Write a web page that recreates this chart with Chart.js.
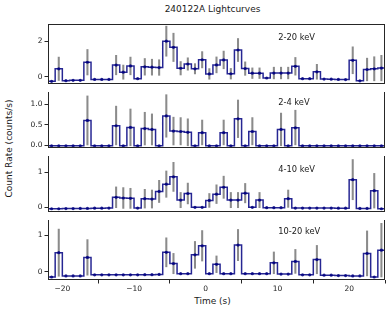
<!DOCTYPE html>
<html>
<head>
<meta charset="utf-8">
<script src="https://cdn.jsdelivr.net/npm/chart.js@4.4.1/dist/chart.umd.min.js"></script>
<style>
  body { margin: 0; background: #fff; }
  #fig { position: relative; width: 391px; height: 312px; background: #fff; overflow: hidden;
         font-family: 'DejaVu Sans', sans-serif; color: #1a1a1a; }
  #fig canvas { position: absolute; left: 0; }
  .txt { position: absolute; white-space: nowrap; text-align: center; font-size: 9px; line-height: 11px; }
</style>
</head>
<body>
<div id="fig">
  <div class="txt" style="left:0;width:425px;top:3.8px;">240122A Lightcurves</div>
  <div class="txt" style="left:-90.7px;width:200px;top:142.5px;transform:rotate(-90deg);">Count Rate (counts/s)</div>
  <div class="txt" style="left:0;width:425px;top:295.5px;">Time (s)</div>
  <canvas id="p0" width="391" height="88" style="top:0px"></canvas>
  <canvas id="p1" width="391" height="64" style="top:88px"></canvas>
  <canvas id="p2" width="391" height="64" style="top:152px"></canvas>
  <canvas id="p3" width="391" height="96" style="top:216px"></canvas>
</div>
<script>
// bin centres (1 s bins, edges -22 .. 25)
const times = [-21.5, -20.5, -19.5, -18.5, -17.5, -16.5, -15.5, -14.5, -13.5, -12.5, -11.5, -10.5,
  -9.5, -8.5, -7.5, -6.5, -5.5, -4.5, -3.5, -2.5, -1.5, -0.5, 0.5, 1.5, 2.5, 3.5, 4.5, 5.5, 6.5,
  7.5, 8.5, 9.5, 10.5, 11.5, 12.5, 13.5, 14.5, 15.5, 16.5, 17.5, 18.5, 19.5, 20.5, 21.5, 22.5,
  23.5, 24.5];
const timeEdges = [-22, 25];
const xTicks = [-20, -10, 0, 10, 20];

const bands = ['2-20 keV', '2-4 keV', '4-10 keV', '10-20 keV'];

const rate2_20 = [-0.27, 0.44, -0.23, -0.21, -0.21, 0.81, -0.16, -0.16, -0.16, 0.65, 0.25, 0.60,
  -0.12, 0.55, 0.53, 0.51, 2.00, 1.65, 0.47, 0.71, 0.44, 0.95, 0.15, 0.66, 0.94, 0.16, 1.50, 0.45,
  0.19, 0.19, -0.08, 0.20, 0.20, 0.20, 0.58, -0.12, -0.12, 0.27, -0.14, -0.15, -0.16, -0.17, 0.92,
  -0.24, 0.40, 0.44, 0.48];
const err2_20 = [0, 0.66, 0, 0, 0, 0.72, 0, 0, 0, 0.55, 0.40, 0.50, 0, 0.47, 0.45, 0.44, 0.85, 0.80,
  0.38, 0.35, 0.29, 0.46, 0.30, 0.45, 0.50, 0.30, 0.65, 0.38, 0.30, 0.30, 0, 0.33, 0.33, 0.33, 0.50,
  0, 0, 0.42, 0, 0, 0, 0, 0.76, 0, 0.64, 0.68, 0.72];

const rate2_4 = [-0.01, -0.01, -0.01, -0.01, -0.01, 0.61, -0.01, -0.01, -0.01, 0.48, -0.01, 0.44,
  -0.01, 0.41, 0.39, -0.01, 0.72, 0.35, 0.34, 0.32, -0.01, 0.31, -0.01, -0.01, 0.31, -0.01, 0.65,
  -0.01, 0.34, -0.01, -0.01, -0.01, 0.39, -0.01, 0.43, -0.01, -0.01, -0.01, -0.01, -0.01, -0.01,
  -0.01, -0.01, -0.01, -0.01, -0.01, -0.01];
const err2_4 = [0, 0, 0, 0, 0, 0.60, 0, 0, 0, 0.48, 0, 0.45, 0, 0.40, 0.38, 0, 0.52, 0.34, 0.34, 0.33,
  0, 0.31, 0, 0, 0.31, 0, 0.46, 0, 0.34, 0, 0, 0, 0.40, 0, 0.43, 0, 0, 0, 0, 0, 0, 0, 0, 0, 0, 0, 0];

const rate4_10 = [-0.05, -0.05, -0.045, -0.045, -0.04, -0.04, -0.035, -0.035, -0.03, 0.28, 0.26,
  0.25, -0.03, 0.24, 0.23, 0.45, 0.66, 0.87, 0.20, 0.39, -0.01, -0.01, 0.19, 0.37, 0.57, 0.20, 0.20,
  0.40, -0.01, 0.20, -0.02, -0.02, -0.02, 0.24, -0.03, -0.03, -0.03, -0.03, -0.03, -0.03, -0.035,
  -0.035, 0.79, -0.04, -0.04, 0.47, -0.05];
const err4_10 = [0, 0, 0, 0, 0, 0, 0, 0, 0, 0.30, 0.30, 0.29, 0, 0.27, 0.26, 0.32, 0.38, 0.42, 0.22,
  0.30, 0, 0, 0.20, 0.27, 0.32, 0.22, 0.22, 0.28, 0, 0.22, 0, 0, 0, 0.25, 0, 0, 0, 0, 0, 0, 0, 0,
  0.58, 0, 0, 0.50, 0];

const rate10_20 = [-0.15, 0.52, -0.12, -0.12, -0.12, 0.39, -0.09, -0.09, -0.09, -0.09, -0.09, -0.09,
  -0.09, -0.085, -0.085, -0.08, 0.53, 0.22, -0.06, -0.06, 0.46, 0.71, -0.06, 0.20, -0.06, -0.06,
  0.73, -0.06, -0.06, -0.06, -0.06, 0.24, -0.07, -0.07, 0.28, -0.09, -0.09, 0.33, -0.10, -0.10,
  -0.11, -0.11, -0.12, -0.12, 0.50, -0.15, 0.59];
const err10_20 = [0, 0.65, 0, 0, 0, 0.49, 0, 0, 0, 0, 0, 0, 0, 0, 0, 0, 0.40, 0.28, 0, 0, 0.37, 0.42,
  0, 0.23, 0, 0, 0.43, 0, 0, 0, 0, 0.30, 0, 0, 0.33, 0, 0, 0.39, 0, 0, 0, 0, 0, 0, 0.62, 0, 0.74];

const yTicks2_20 = [0, 2];
const yTicks2_4 = [0.0, 0.5, 1.0];
const yTicks4_10 = [0, 1];
const yTicks10_20 = [0, 1];

Chart.defaults.font.family = "'DejaVu Sans', sans-serif";
Chart.defaults.color = '#1a1a1a';

const LINE = 'rgba(0, 0, 128, 0.85)';
const ERR = 'rgba(110, 110, 110, 0.8)';
const AXIS = '#262626';

// box around each panel + the band label
const panelFrame = {
  id: 'panelFrame',
  afterDraw(chart, args, opts) {
    const { ctx, chartArea: a } = chart;
    const l = Math.round(a.left), r = Math.round(a.right);
    const t = Math.round(a.top), b = Math.round(a.bottom);
    ctx.save();
    ctx.fillStyle = AXIS;
    if (opts.drawTop) ctx.fillRect(l, t, r - l, 1);
    ctx.fillRect(l, t, 1, b - t);
    ctx.fillRect(r - 1, t, 1, b - t);
    ctx.fillRect(l, b - 1, r - l, 1);

    ctx.fillStyle = '#1a1a1a';
    ctx.font = "8.3px 'DejaVu Sans'";
    ctx.textBaseline = 'middle';
    ctx.textAlign = 'left';
    ctx.fillText(opts.text, a.left + 0.683 * (a.right - a.left), a.top + opts.dy);
    ctx.restore();
  }
};

const panels = [
  { id: 'p0', rate: rate2_20, err: err2_20, ticks: yTicks2_20, min: -0.42, max: 2.97, digits: 0, padTop: 24, dy: 13.5 },
  { id: 'p1', rate: rate2_4, err: err2_4, ticks: yTicks2_4, min: -0.064, max: 1.306, digits: 1, padTop: 0, dy: 10.7 },
  { id: 'p2', rate: rate4_10, err: err4_10, ticks: yTicks4_10, min: -0.144, max: 1.472, digits: 0, padTop: 0, dy: 13.8 },
  { id: 'p3', rate: rate10_20, err: err10_20, ticks: yTicks10_20, min: -0.233, max: 1.421, digits: 0, padTop: 0, dy: 12.3 }
];

function fmtMinus(v, digits) {
  const s = Math.abs(v).toFixed(digits);
  return v < 0 ? '\u2212' + s : s;
}

panels.forEach((p, k) => {
  const bottom = k === panels.length - 1;

  // stepped line spans the full bin edges
  const stepData = [{ x: timeEdges[0], y: p.rate[0] }]
    .concat(times.map((t, i) => ({ x: t, y: p.rate[i] })))
    .concat([{ x: timeEdges[1], y: p.rate[p.rate.length - 1] }]);

  const errData = times
    .map((t, i) => (p.err[i] > 0 ? { x: t, y: [p.rate[i] - p.err[i], p.rate[i] + p.err[i]] } : null))
    .filter(Boolean);

  new Chart(document.getElementById(p.id), {
    type: 'line',
    data: {
      datasets: [
        {
          type: 'line',
          data: times.map((t, i) => ({ x: t, y: p.rate[i] })),
          showLine: false,
          pointRadius: 1.6,
          pointBackgroundColor: LINE,
          pointBorderWidth: 0,
          order: 1
        },
        {
          type: 'line',
          data: stepData,
          stepped: 'middle',
          borderColor: LINE,
          borderWidth: 1.5,
          pointRadius: 0,
          fill: false,
          order: 2
        },
        {
          type: 'bar',
          data: errData,
          backgroundColor: ERR,
          borderWidth: 0,
          barThickness: 1.4,
          order: 3
        }
      ]
    },
    options: {
      responsive: false,
      animation: false,
      events: [],
      layout: { padding: { top: p.padTop, right: 6, left: 0, bottom: 0 } },
      plugins: {
        legend: { display: false },
        tooltip: { enabled: false },
        panelFrame: { text: bands[k], dy: p.dy, drawTop: k === 0 }
      },
      scales: {
        x: {
          type: 'linear',
          min: timeEdges[0],
          max: timeEdges[1],
          offset: false,
          display: bottom,
          afterBuildTicks: (s) => { s.ticks = xTicks.map(v => ({ value: v })); },
          afterFit: (s) => {
            s.height = bottom ? 32 : 0;
            s.paddingLeft = 0;
            s.paddingRight = 0;
          },
          ticks: {
            font: { size: 7.5 },
            padding: 1,
            maxRotation: 0,
            autoSkip: false,
            callback: (v) => fmtMinus(v, 0)
          },
          grid: { display: true, drawOnChartArea: false, drawTicks: true, tickLength: 3.5, color: AXIS },
          border: { display: false }
        },
        y: {
          type: 'linear',
          min: p.min,
          max: p.max,
          beginAtZero: false,
          afterBuildTicks: (s) => { s.ticks = p.ticks.map(v => ({ value: v })); },
          afterFit: (s) => { s.width = 48; s.paddingTop = 0; s.paddingBottom = 0; },
          ticks: {
            font: { size: 7.5 },
            padding: 2,
            autoSkip: false,
            callback: (v) => fmtMinus(v, p.digits)
          },
          grid: { display: true, drawOnChartArea: false, drawTicks: true, tickLength: 3.5, color: AXIS },
          border: { display: false }
        }
      }
    },
    plugins: [panelFrame]
  });
});
</script>
</body>
</html>
